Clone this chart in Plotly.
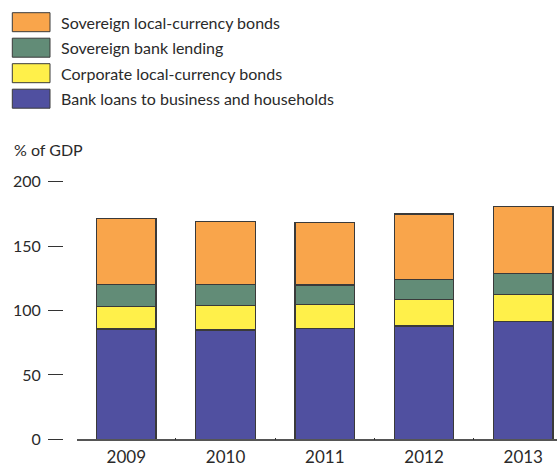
import plotly.graph_objects as go

# Financing composition, % of GDP
years = ["2009", "2010", "2011", "2012", "2013"]
bank_loans = [85.6, 84.9, 85.9, 88.0, 91.3]
corporate_bonds = [17.4, 19.1, 18.9, 20.7, 21.3]
sovereign_lending = [17.3, 16.3, 15.0, 15.5, 16.3]
sovereign_bonds = [51.3, 49.0, 48.4, 50.7, 51.7]

y_ticks = [0, 50, 100, 150, 200]

# stacked from the bottom up
series = [
    ("Bank loans to business and households", bank_loans, "#5050a0"),
    ("Corporate local-currency bonds", corporate_bonds, "#fff04a"),
    ("Sovereign bank lending", sovereign_lending, "#628c77"),
    ("Sovereign local-currency bonds", sovereign_bonds, "#f9a54b"),
]

W, H = 557, 466
FONT = "Lato"
TEXT = "#2a2a2a"

fig = go.Figure()
for name, vals, color in series:
    fig.add_trace(go.Bar(
        x=years, y=vals, name=name,
        marker=dict(color=color, line=dict(color="#3a3a3a", width=1.2)),
        showlegend=False,
    ))

def px_x(v):
    return v / W

def px_y(v):
    return 1 - v / H

# legend drawn as swatches + labels, top entry = top of the stack
legend_rows = list(reversed(series))
row_top = 12.7
row_step = 25.5
sw_h = 19
shapes = []
annotations = []
for i, (name, _, color) in enumerate(legend_rows):
    top = row_top + i * row_step
    shapes.append(dict(
        type="rect", xref="paper", yref="paper",
        x0=px_x(12.3), x1=px_x(50), y0=px_y(top + sw_h), y1=px_y(top),
        fillcolor=color, line=dict(color="#3a3a3a", width=1),
    ))
    annotations.append(dict(
        xref="paper", yref="paper", x=px_x(59), y=px_y(top + sw_h / 2),
        xanchor="left", yanchor="middle", text=name, showarrow=False,
        font=dict(family=FONT, size=16, color=TEXT),
    ))

annotations.append(dict(
    xref="paper", yref="paper", x=px_x(12), y=px_y(149),
    xanchor="left", yanchor="middle", text="% of GDP", showarrow=False,
    font=dict(family=FONT, size=16, color=TEXT),
))

fig.update_layout(
    width=W, height=H,
    margin=dict(l=0, r=0, t=0, b=0, autoexpand=False),
    paper_bgcolor="white", plot_bgcolor="white",
    barmode="stack", bargap=0.4,
    shapes=shapes, annotations=annotations,
    font=dict(family=FONT, size=16, color=TEXT),
    xaxis=dict(
        domain=[px_x(76.7), 1],
        range=[-0.5, 4.34],
        automargin=False,
        showline=True, linecolor="#555555", linewidth=1.5,
        ticks="inside", tickson="boundaries", ticklen=2,
        tickcolor="#333333", tickwidth=1.2,
        tickfont=dict(family=FONT, size=17, color=TEXT),
        showgrid=False, zeroline=False,
        ticklabelstandoff=2,
    ),
    yaxis=dict(
        domain=[1 - 439.3 / H, 1 - 181.7 / H],
        range=[0, 200],
        anchor="free", position=px_x(63),
        automargin=False,
        tickvals=y_ticks,
        ticks="outside", ticklen=15, tickcolor="#333333", tickwidth=1.2,
        tickfont=dict(family=FONT, size=16, color=TEXT),
        ticklabelstandoff=4,
        showline=False, showgrid=False, zeroline=False,
    ),
)

fig.write_html("out.html")
